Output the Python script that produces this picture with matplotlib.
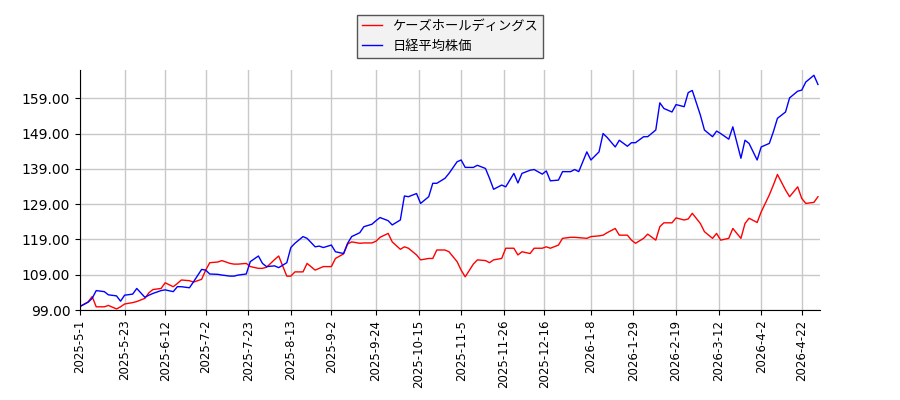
import matplotlib
matplotlib.use('Agg')
import matplotlib.pyplot as plt
import pandas as pd

# every other trading day, 2025-05-01 .. 2026-04-30
dates = pd.bdate_range('2025-05-01', '2026-05-01')[::2]

ks_holdings = [
    100.0, 101.3, 102.8, 99.9, 99.9, 100.3, 99.3, 99.9, 100.7, 101.1, 101.4, 102.3, 103.9, 104.8,
    105.1, 106.7, 105.6, 106.5, 107.5, 107.3, 106.9, 107.7, 110.3, 112.4, 112.6, 113.0, 112.2,
    112.0, 112.0, 112.2, 111.3, 110.8, 110.8, 111.1, 113.3, 114.3, 108.6, 108.6, 109.8, 109.8,
    112.2, 110.3, 110.8, 111.3, 111.3, 113.6, 114.9, 117.7, 118.3, 117.9, 118.0, 118.0, 118.5,
    119.6, 120.7, 118.3, 116.2, 116.9, 116.5, 114.6, 113.2, 113.6, 113.6, 116.0, 116.0, 115.5,
    112.7, 110.3, 108.4, 112.0, 113.2, 113.0, 112.4, 113.2, 113.6, 116.5, 116.5, 114.6, 115.5,
    115.0, 116.5, 116.5, 116.9, 116.5, 117.4, 119.3, 119.6, 119.6, 119.5, 119.3, 119.8, 120.0,
    120.2, 120.9, 122.1, 120.2, 120.2, 118.8, 117.9, 119.3, 120.5, 118.8, 122.6, 123.7, 123.7,
    125.1, 124.5, 124.8, 126.4, 123.5, 121.2, 119.3, 120.7, 118.8, 119.3, 122.1, 119.3, 123.5,
    125.0, 123.8, 126.8, 131.6, 134.4, 137.4, 133.0, 131.1, 133.9, 130.6, 129.2, 129.5, 131.1,
]

nikkei = [
    100.0, 101.2, 102.3, 104.5, 104.2, 103.3, 103.0, 101.5, 103.2, 103.5, 105.1, 102.6, 103.2,
    103.7, 104.5, 104.7, 104.2, 105.6, 105.6, 105.3, 107.0, 110.5, 110.3, 109.2, 109.1, 108.9, 108.6,
    108.6, 108.9, 109.2, 112.7, 114.3, 112.2, 111.3, 111.5, 111.0, 112.4, 116.7, 117.9, 119.8,
    119.3, 116.9, 117.1, 116.7, 117.4, 115.5, 115.0, 117.9, 119.8, 120.9, 122.6, 123.3, 124.3,
    125.2, 124.3, 123.1, 124.5, 131.3, 131.1, 132.0, 129.2, 131.1, 134.9, 134.9, 136.3, 137.7,
    141.0, 141.5, 139.4, 139.4, 140.0, 139.1, 136.3, 133.2, 134.4, 133.9, 137.7, 135.0, 137.7,
    138.6, 138.8, 137.5, 138.4, 135.6, 135.8, 138.2, 138.2, 138.8, 138.2, 143.8, 141.5, 143.8,
    149.0, 147.9, 145.2, 147.1, 145.4, 146.4, 146.4, 148.1, 148.1, 150.0, 157.7, 156.1, 155.1,
    157.2, 156.6, 160.6, 161.2, 154.2, 150.0, 148.1, 149.7, 149.0, 147.4, 150.9, 142.0, 147.1,
    146.2, 141.5, 145.2, 146.2, 149.5, 153.3, 155.1, 159.1, 161.0, 161.3, 163.6, 165.5, 162.9,
]

tick_dates = ['2025-5-1', '2025-5-23', '2025-6-12', '2025-7-2', '2025-7-23', '2025-8-13',
              '2025-9-2', '2025-9-24', '2025-10-15', '2025-11-5', '2025-11-26', '2025-12-16',
              '2026-1-8', '2026-1-29', '2026-2-19', '2026-3-12', '2026-4-2', '2026-4-22']
y_ticks = [99, 109, 119, 129, 139, 149, 159]

fig = plt.figure(figsize=(9, 4), dpi=100)
ax = fig.add_axes([80 / 900, 90 / 400, 740 / 900, 240 / 400])

ax.plot(dates, ks_holdings, color='red', linewidth=1, label='ケーズホールディングス')
ax.plot(dates, nikkei, color='blue', linewidth=1, label='日経平均株価')

ax.set_xlim(pd.Timestamp('2025-05-01'), pd.Timestamp('2026-05-01'))
ax.set_ylim(99, 167)
ax.set_yticks(y_ticks)
ax.set_yticklabels(['%.2f' % v for v in y_ticks], fontsize=10)
ax.set_xticks([pd.Timestamp(d) for d in tick_dates])
ax.set_xticklabels(tick_dates, rotation=90, fontsize=8.5)
ax.grid(True, color='#c8c8c8', linewidth=1)
ax.set_axisbelow(True)
ax.spines['top'].set_visible(False)
ax.spines['right'].set_visible(False)

fig.legend(loc='upper center', bbox_to_anchor=(0.5, 1 - 8 / 400), fancybox=False,
           facecolor='#f2f2f2', edgecolor='#555555', framealpha=1, handlelength=1.5,
           prop={'family': ['Noto Sans CJK JP', 'DejaVu Sans'], 'size': 9.5})

fig.savefig('out.png', dpi=100)
